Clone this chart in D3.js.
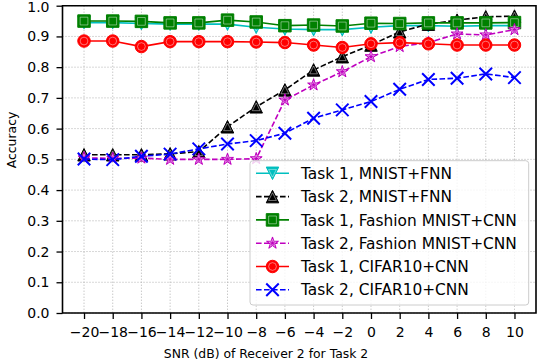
<!DOCTYPE html>
<html>
<head>
<meta charset="utf-8">
<script src="https://cdn.jsdelivr.net/npm/d3@7"></script>
<style>
  body { margin: 0; background: #fff; }
  svg { display: block; font-family: "DejaVu Sans", sans-serif; }
</style>
</head>
<body>
<svg id="chart" width="538" height="364"></svg>
<script>
const snr = [-20, -18, -16, -14, -12, -10, -8, -6, -4, -2, 0, 2, 4, 6, 8, 10];
const yTicks = [0, 0.1, 0.2, 0.3, 0.4, 0.5, 0.6, 0.7, 0.8, 0.9, 1.0];

const task1Mnist = [0.945, 0.945, 0.942, 0.940, 0.940, 0.940, 0.930, 0.924, 0.922, 0.922, 0.930, 0.935, 0.935, 0.933, 0.935, 0.935];
const task2Mnist = [0.515, 0.515, 0.515, 0.518, 0.525, 0.606, 0.671, 0.726, 0.791, 0.834, 0.872, 0.915, 0.940, 0.953, 0.964, 0.966];
const task1Fashion = [0.950, 0.950, 0.949, 0.944, 0.944, 0.953, 0.947, 0.935, 0.937, 0.934, 0.943, 0.942, 0.944, 0.944, 0.944, 0.945];
const task2Fashion = [0.505, 0.503, 0.504, 0.500, 0.500, 0.500, 0.502, 0.693, 0.742, 0.785, 0.834, 0.867, 0.880, 0.908, 0.905, 0.922];
const task1Cifar = [0.885, 0.885, 0.867, 0.883, 0.883, 0.883, 0.882, 0.880, 0.872, 0.864, 0.876, 0.880, 0.876, 0.872, 0.872, 0.872];
const task2Cifar = [0.501, 0.499, 0.510, 0.517, 0.534, 0.550, 0.561, 0.585, 0.634, 0.661, 0.688, 0.728, 0.760, 0.764, 0.778, 0.766];

const series = [
  { name: "Task 1, MNIST+FNN", values: task1Mnist, color: "#00bfbf", dashed: false, marker: "tridown" },
  { name: "Task 2, MNIST+FNN", values: task2Mnist, color: "#000000", dashed: true, marker: "triup" },
  { name: "Task 1, Fashion MNIST+CNN", values: task1Fashion, color: "#008000", dashed: false, marker: "square" },
  { name: "Task 2, Fashion MNIST+CNN", values: task2Fashion, color: "#bf00bf", dashed: true, marker: "star" },
  { name: "Task 1, CIFAR10+CNN", values: task1Cifar, color: "#ff0000", dashed: false, marker: "circle" },
  { name: "Task 2, CIFAR10+CNN", values: task2Cifar, color: "#0000ff", dashed: true, marker: "x" },
];

const svg = d3.select("#chart");
const box = { left: 62.5, right: 536, top: 5.7, bottom: 313 };

const x = d3.scaleLinear().domain([-21.5, 11.5]).range([box.left, box.right]);
const y = d3.scaleLinear().domain([0, 1]).range([box.bottom, box.top]);

const minus = (v) => d3.format("d")(v).replace("-", "\u2212");

// grid
const grid = svg.append("g").attr("stroke", "#b0b0b0").attr("stroke-width", 1).attr("stroke-dasharray", "1,2");
grid.selectAll(".gx").data(snr).join("line")
  .attr("x1", (d) => x(d)).attr("x2", (d) => x(d))
  .attr("y1", box.top).attr("y2", box.bottom);
grid.selectAll(".gy").data(yTicks).join("line")
  .attr("x1", box.left).attr("x2", box.right)
  .attr("y1", (d) => y(d)).attr("y2", (d) => y(d));

// axes
const xAxis = svg.append("g")
  .attr("transform", `translate(0,${box.bottom})`)
  .call(d3.axisBottom(x).tickValues(snr).tickFormat(minus).tickSize(6).tickPadding(8));
const yAxis = svg.append("g")
  .attr("transform", `translate(${box.left},0)`)
  .call(d3.axisLeft(y).tickValues(yTicks).tickFormat(d3.format(".1f")).tickSize(6).tickPadding(7));
[xAxis, yAxis].forEach((a) => {
  a.select(".domain").remove();
  a.selectAll(".tick line").attr("stroke", "#000").attr("stroke-width", 1.3);
  a.selectAll("text").attr("font-size", "14px").attr("fill", "#000").attr("font-family", "DejaVu Sans");
});
yAxis.selectAll(".tick").filter((d) => d === 1).select("text").attr("dy", "0.42em");

// markers
const ms = 12.5;
function markerPath(type, s) {
  const h = s / 2;
  if (type === "circle") return `M${h},0A${h},${h},0,1,1,${-h},0A${h},${h},0,1,1,${h},0Z`;
  if (type === "square") return `M${-h},${-h}H${h}V${h}H${-h}Z`;
  if (type === "triup") return `M0,${-h}L${h},${h}L${-h},${h}Z`;
  if (type === "tridown") return `M0,${h}L${h},${-h}L${-h},${-h}Z`;
  if (type === "x") return `M${-h},${-h}L${h},${h}M${-h},${h}L${h},${-h}`;
  if (type === "star") {
    const pts = [];
    for (let i = 0; i < 10; i++) {
      const r = i % 2 === 0 ? h : h * 0.382;
      const a = (Math.PI / 5) * i - Math.PI / 2;
      pts.push([r * Math.cos(a), r * Math.sin(a)]);
    }
    return "M" + pts.map((p) => p.join(",")).join("L") + "Z";
  }
}

function drawMarker(g, type, color) {
  if (type === "x") {
    g.append("path").attr("d", markerPath("x", ms)).attr("stroke", color).attr("stroke-width", 2).attr("fill", "none");
    return;
  }
  g.append("path").attr("d", markerPath(type, ms))
    .attr("fill", color).attr("stroke", color).attr("stroke-width", 1).attr("stroke-linejoin", "miter");
  // faint inner highlight seen in the reference
  g.append("path").attr("d", markerPath(type, ms * 0.62))
    .attr("fill", "none").attr("stroke", "#fff").attr("stroke-width", 0.8).attr("stroke-opacity", 0.55);
}

const line = d3.line().x((d, i) => x(snr[i])).y((d) => y(d));

series.forEach((s) => {
  const g = svg.append("g");
  g.append("path").datum(s.values).attr("d", line)
    .attr("fill", "none").attr("stroke", s.color).attr("stroke-width", 1.6)
    .attr("stroke-dasharray", s.dashed ? "5.6,2.4" : null);
  s.values.forEach((v, i) => {
    drawMarker(g.append("g").attr("transform", `translate(${x(snr[i])},${y(v)})`), s.marker, s.color);
  });
});

// spines
svg.append("path")
  .attr("d", `M${box.left},${box.top}V${box.bottom}H${box.right}V${box.top}Z`)
  .attr("fill", "none").attr("stroke", "#000").attr("stroke-width", 1.6);

// labels
svg.append("text").attr("x", 266).attr("y", 358).attr("text-anchor", "middle")
  .attr("font-size", "12.4px").text("SNR (dB) of Receiver 2 for Task 2");
svg.append("text").attr("transform", "translate(16,140) rotate(-90)").attr("text-anchor", "middle")
  .attr("font-size", "12.4px").text("Accuracy");

// legend
const leg = svg.append("g").attr("transform", "translate(250,160.7)");
leg.append("rect").attr("width", 278.7).attr("height", 144.3).attr("rx", 3)
  .attr("fill", "#fff").attr("fill-opacity", 0.8).attr("stroke", "#cccccc").attr("stroke-width", 1);
series.forEach((s, i) => {
  const cy = 12.6 + i * 23.3;
  const row = leg.append("g").attr("transform", `translate(0,${cy})`);
  row.append("line").attr("x1", 6).attr("x2", 39).attr("y1", 0).attr("y2", 0)
    .attr("stroke", s.color).attr("stroke-width", 1.6)
    .attr("stroke-dasharray", s.dashed ? "5.6,2.4" : null);
  drawMarker(row.append("g").attr("transform", "translate(22.5,0)"), s.marker, s.color);
  row.append("text").attr("x", 51).attr("y", 5.6).attr("font-size", "15.4px").text(s.name);
});
</script>
</body>
</html>
